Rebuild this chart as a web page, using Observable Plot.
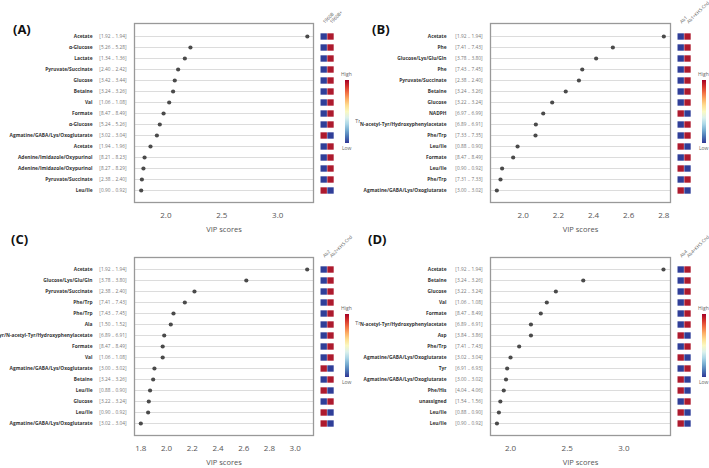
<!DOCTYPE html>
<html>
<head>
<meta charset="utf-8">
<script src="https://cdn.jsdelivr.net/npm/d3@7"></script>
<script src="https://cdn.jsdelivr.net/npm/@observablehq/plot@0.6"></script>
<style>
  body { margin: 0; background: #fff; }
  #root { position: relative; width: 709px; height: 468px; overflow: hidden; font-family: "Open Sans", sans-serif; }
  .panel { position: absolute; overflow: hidden; }
  .panel svg { overflow: hidden; }
  .plab { position: absolute; font: bold 13px "Open Sans", sans-serif; color: #111; line-height: 1; }
  .lg { position: absolute; font: 5px "Open Sans", sans-serif; color: #666; line-height: 1; }
  .bar { position: absolute; width: 4px; }
</style>
</head>
<body>
<div id="root"></div>
<script>
// ---------- DATA ----------
const namesA = ["Acetate","α-Glucose","Lactate","Pyruvate/Succinate","Glucose","Betaine","Val","Formate","α-Glucose","Agmatine/GABA/Lys/Oxoglutarate","Acetate","Adenine/Imidazole/Oxypurinol","Adenine/Imidazole/Oxypurinol","Pyruvate/Succinate","Leu/Ile"];
const rangesA = ["[1.92 .. 1.94]","[5.26 .. 5.28]","[1.34 .. 1.36]","[2.40 .. 2.42]","[3.42 .. 3.44]","[3.24 .. 3.26]","[1.06 .. 1.08]","[8.47 .. 8.49]","[5.24 .. 5.26]","[3.02 .. 3.04]","[1.94 .. 1.96]","[8.21 .. 8.23]","[8.27 .. 8.29]","[2.38 .. 2.40]","[0.90 .. 0.92]"];
const vipA = [3.265,2.22,2.17,2.11,2.08,2.065,2.03,1.98,1.946,1.92,1.863,1.81,1.80,1.786,1.78];
const trendA = [1,1,1,1,1,1,1,1,1,-1,1,1,1,1,-1];
const groupsA = ["1960B","1960B+"];
const ticksA = [2.0,2.5,3.0];

const namesB = ["Acetate","Phe","Glucose/Lys/Glu/Gln","Phe","Pyruvate/Succinate","Betaine","Glucose","NADPH","Tyr/N-acetyl-Tyr/Hydroxyphenylacetate","Phe/Trp","Leu/Ile","Formate","Leu/Ile","Phe/Trp","Agmatine/GABA/Lys/Oxoglutarate"];
const rangesB = ["[1.92 .. 1.94]","[7.41 .. 7.43]","[3.78 .. 3.80]","[7.43 .. 7.45]","[2.38 .. 2.40]","[3.24 .. 3.26]","[3.22 .. 3.24]","[6.97 .. 6.99]","[6.89 .. 6.91]","[7.33 .. 7.35]","[0.88 .. 0.90]","[8.47 .. 8.49]","[0.90 .. 0.92]","[7.31 .. 7.33]","[3.00 .. 3.02]"];
const vipB = [2.80,2.51,2.415,2.336,2.317,2.242,2.165,2.114,2.072,2.07,1.968,1.943,1.88,1.871,1.85];
const trendB = [1,1,1,1,1,1,1,-1,1,1,-1,1,-1,1,-1];
const groupsB = ["Ab1","Ab1+KHS-Cnd"];
const ticksB = [2.0,2.2,2.4,2.6,2.8];

const namesC = ["Acetate","Glucose/Lys/Glu/Gln","Pyruvate/Succinate","Phe/Trp","Phe/Trp","Ala","Tyr/N-acetyl-Tyr/Hydroxyphenylacetate","Formate","Val","Agmatine/GABA/Lys/Oxoglutarate","Betaine","Leu/Ile","Glucose","Leu/Ile","Agmatine/GABA/Lys/Oxoglutarate"];
const rangesC = ["[1.92 .. 1.94]","[3.78 .. 3.80]","[2.38 .. 2.40]","[7.41 .. 7.43]","[7.43 .. 7.45]","[1.50 .. 1.52]","[6.89 .. 6.91]","[8.47 .. 8.49]","[1.06 .. 1.08]","[3.00 .. 3.02]","[3.24 .. 3.26]","[0.88 .. 0.90]","[3.22 .. 3.24]","[0.90 .. 0.92]","[3.02 .. 3.04]"];
const vipC = [3.093,2.62,2.217,2.142,2.054,2.033,1.982,1.97,1.97,1.906,1.896,1.872,1.862,1.857,1.80];
const trendC = [1,1,1,1,1,1,1,1,1,-1,1,-1,1,-1,-1];
const groupsC = ["Ab2","Ab2+KHS-Cnd"];
const ticksC = [1.8,2.0,2.2,2.4,2.6,2.8,3.0];

const namesD = ["Acetate","Betaine","Glucose","Val","Formate","Tyr/N-acetyl-Tyr/Hydroxyphenylacetate","Asp","Phe/Trp","Agmatine/GABA/Lys/Oxoglutarate","Tyr","Agmatine/GABA/Lys/Oxoglutarate","Phe/His","unassigned","Leu/Ile","Leu/Ile"];
const rangesD = ["[1.92 .. 1.94]","[3.24 .. 3.26]","[3.22 .. 3.24]","[1.06 .. 1.08]","[8.47 .. 8.49]","[6.89 .. 6.91]","[3.84 .. 3.86]","[7.41 .. 7.43]","[3.02 .. 3.04]","[6.91 .. 6.93]","[3.00 .. 3.02]","[4.04 .. 4.06]","[1.54 .. 1.56]","[0.88 .. 0.90]","[0.90 .. 0.92]"];
const vipD = [3.35,2.642,2.40,2.32,2.267,2.18,2.18,2.076,2.0,1.97,1.96,1.94,1.91,1.897,1.88];
const trendD = [1,1,1,1,1,1,-1,1,-1,1,-1,-1,1,-1,-1];
const groupsD = ["Ab4","Ab4+KHS-Cnd"];
const ticksD = [2.0,2.5,3.0];

const BLUE = "#2f3e98", RED = "#ad1a2e";

// ---------- DRAW ----------
const root = document.getElementById("root");

function panel(cfg) {
  const {names, ranges, vip, trend, groups, ticks, domain, left, top, width, marginLeft, marginRight, marginBottom, nameDx} = cfg;
  const data = names.map((n, i) => ({i, name: n, range: ranges[i], vip: vip[i], trend: trend[i]}));
  const idx = d3.range(names.length);
  const chart = Plot.plot({
    width, height: 234,
    marginLeft, marginRight, marginTop: 23, marginBottom,
    style: {fontFamily: "'Open Sans', sans-serif", background: "#fff"},
    x: {domain},
    y: {type: "point", domain: idx, padding: 1},
    color: {type: "identity"},
    marks: [
      Plot.ruleY(idx, {y: d => d, stroke: "#dcdcdc", strokeWidth: 1}),
      Plot.frame({stroke: "#999", strokeWidth: 1.3}),
      Plot.dot(data, {x: "vip", y: "i", r: 2.1, fill: "#4a4a4a"}),
      Plot.axisX({ticks, tickFormat: ".1f", tickSize: 0, tickPadding: 10, fontSize: 8, fill: "#555", label: null}),
      Plot.text(["VIP scores"], {frameAnchor: "bottom", dy: 27, lineAnchor: "middle", fontSize: 7.5, fill: "#555"}),
      Plot.axisY({tickFormat: i => ranges[i], tickSize: 0, tickPadding: 8, fontSize: 4.8, fill: "#777", label: null}),
      Plot.text(data, {y: "i", text: "name", frameAnchor: "left", dx: nameDx, textAnchor: "end", fontWeight: "bold", fontSize: 4.85, fill: "#333"}),
      Plot.dot(data, {y: "i", frameAnchor: "right", dx: 10.2, symbol: "square", r: 3.6, fill: d => d.trend > 0 ? BLUE : RED}),
      Plot.dot(data, {y: "i", frameAnchor: "right", dx: 17, symbol: "square", r: 3.6, fill: d => d.trend > 0 ? RED : BLUE}),
      Plot.text([groups[0]], {frameAnchor: "top-right", dx: 9, dy: -2, rotate: -45, textAnchor: "start", fontSize: 4.5, fill: "#555"}),
      Plot.text([groups[1]], {frameAnchor: "top-right", dx: 16, dy: -2, rotate: -45, textAnchor: "start", fontSize: 4.5, fill: "#555"})
    ]
  });
  const div = document.createElement("div");
  div.className = "panel";
  div.style.left = left + "px";
  div.style.top = top + "px";
  div.style.width = width + "px";
  div.style.height = "234px";
  div.appendChild(chart);
  root.appendChild(div);
}

panel({names: namesA, ranges: rangesA, vip: vipA, trend: trendA, groups: groupsA, ticks: ticksA, nameDx: -42,
  domain: [1.72, 3.32], left: 0, top: 0, width: 360, marginLeft: 134, marginRight: 47, marginBottom: 32});
panel({names: namesB, ranges: rangesB, vip: vipB, trend: trendB, groups: groupsB, ticks: ticksB, nameDx: -44,
  domain: [1.814, 2.838], left: 360, top: 0, width: 349, marginLeft: 130, marginRight: 39, marginBottom: 32});
panel({names: namesC, ranges: rangesC, vip: vipC, trend: trendC, groups: groupsC, ticks: ticksC, nameDx: -42,
  domain: [1.751, 3.142], left: 0, top: 234, width: 360, marginLeft: 134, marginRight: 47, marginBottom: 33});
panel({names: namesD, ranges: rangesD, vip: vipD, trend: trendD, groups: groupsD, ticks: ticksD, nameDx: -44,
  domain: [1.823, 3.412], left: 360, top: 234, width: 349, marginLeft: 130, marginRight: 39, marginBottom: 33});

// panel labels
[["(A)", 13, 23], ["(B)", 372, 23], ["(C)", 11, 233], ["(D)", 368, 233]].forEach(([t, x, y]) => {
  const d = document.createElement("div");
  d.className = "plab"; d.textContent = t;
  d.style.left = x + "px"; d.style.top = y + "px";
  root.appendChild(d);
});

// colour-bar legends
const grad = "linear-gradient(to bottom," + d3.range(0, 1.001, 0.1).map(t => d3.interpolateRdYlBu(t)).join(",") + ")";
[[345, 80], [702, 80], [345, 314], [702, 314]].forEach(([x, y]) => {
  const b = document.createElement("div");
  b.className = "bar"; b.style.left = x + "px"; b.style.top = y + "px"; b.style.height = "63px";
  b.style.background = grad;
  root.appendChild(b);
  const hi = document.createElement("div");
  hi.className = "lg"; hi.textContent = "High"; hi.style.left = (x - 4) + "px"; hi.style.top = (y - 8) + "px";
  root.appendChild(hi);
  const lo = document.createElement("div");
  lo.className = "lg"; lo.textContent = "Low"; lo.style.left = (x - 3) + "px"; lo.style.top = (y + 66) + "px";
  root.appendChild(lo);
});
[[355, 118], [355, 320]].forEach(([x, y]) => {
  const t = document.createElement("div");
  t.className = "lg"; t.textContent = "Trend"; t.style.left = x + "px"; t.style.top = y + "px";
  t.style.fontSize = "6px"; t.style.width = "5px"; t.style.overflow = "hidden"; t.style.whiteSpace = "nowrap";
  root.appendChild(t);
});
</script>
</body>
</html>
